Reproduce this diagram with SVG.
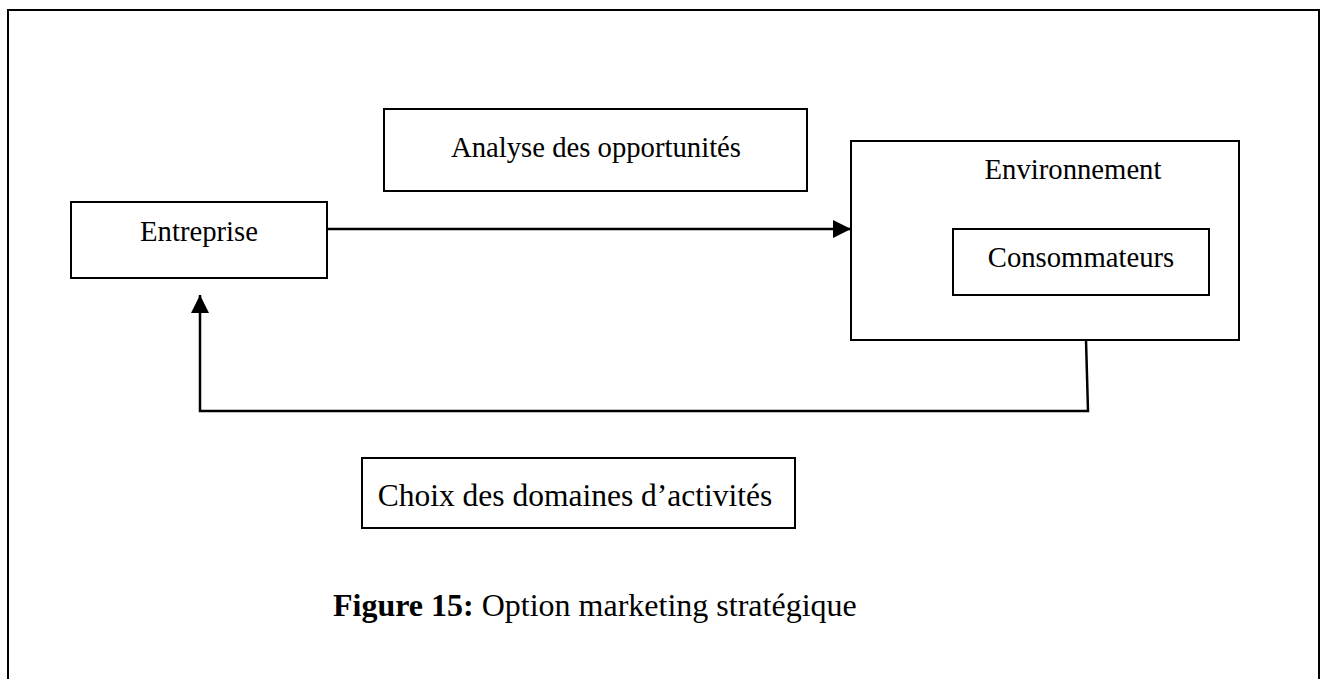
<svg xmlns="http://www.w3.org/2000/svg" width="1327" height="679" viewBox="0 0 1327 679">
  <style>
    .box { fill: #fff; stroke: #000; stroke-width: 2; }
    .lbl { font-family: "Liberation Serif", "Times New Roman", serif; font-size: 28.7px; fill: #000; }
    .lbl.big { font-size: 31.5px; }
    .cap { font-family: "Liberation Serif", "Times New Roman", serif; font-size: 32px; fill: #000; }
    .wire { fill: none; stroke: #000; stroke-width: 2.5; }
  </style>
  <defs>
    <marker id="tip" markerUnits="userSpaceOnUse" markerWidth="18" markerHeight="18" viewBox="0 0 16 16" refX="16" refY="8" orient="auto">
      <path d="M0,0 L16,8 L0,16 Z" fill="#000"/>
    </marker>
  </defs>
  <rect width="1327" height="679" fill="#fff"/>

  <!-- outer frame, open at the bottom -->
  <path d="M8,679 L8,10 L1319,10 L1319,679" fill="none" stroke="#000" stroke-width="2"/>

  <g id="entreprise">
    <rect class="box" x="71" y="202" width="256" height="76"/>
    <text class="lbl" x="199" y="241" text-anchor="middle">Entreprise</text>
  </g>

  <g id="analyse">
    <rect class="box" x="384" y="109" width="423" height="82"/>
    <text class="lbl" x="596" y="157" text-anchor="middle">Analyse des opportunités</text>
  </g>

  <g id="environnement">
    <rect class="box" x="851" y="141" width="388" height="199"/>
    <text class="lbl" x="1073" y="179" text-anchor="middle">Environnement</text>
  </g>

  <g id="consommateurs">
    <rect class="box" x="953" y="229" width="256" height="66"/>
    <text class="lbl" x="1081" y="267" text-anchor="middle">Consommateurs</text>
  </g>

  <g id="choix">
    <rect class="box" x="362" y="458" width="433" height="70"/>
    <text class="lbl big" x="575" y="506" text-anchor="middle">Choix des domaines d’activités</text>
  </g>

  <g id="connectors">
    <line class="wire" x1="327" y1="229" x2="851" y2="229" marker-end="url(#tip)"/>
    <polyline class="wire" points="1086,340 1088,411 200,411 200,295" marker-end="url(#tip)"/>
  </g>

  <g id="caption">
    <text class="cap" x="333" y="616"><tspan font-weight="bold">Figure 15:</tspan> Option marketing stratégique</text>
  </g>
</svg>
